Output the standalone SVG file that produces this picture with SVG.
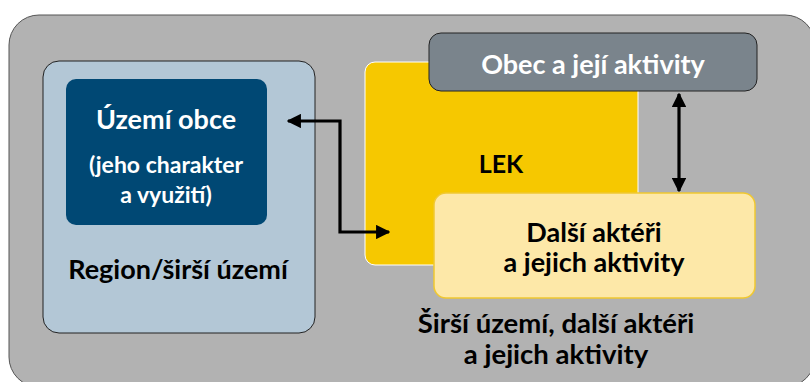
<svg xmlns="http://www.w3.org/2000/svg" width="810" height="382" viewBox="0 0 810 382">
<style>
.t{font-family:Lato,"Open Sans","Liberation Sans",sans-serif;font-weight:bold;text-anchor:middle}
.w{fill:#ffffff}
.k{fill:#000000}
.c{fill:none;stroke:#000;stroke-width:3.2}
</style>
<defs>
<marker id="ah" viewBox="0 0 10 10" refX="9" refY="5" markerWidth="4.5" markerHeight="4.5" orient="auto-start-reverse" markerUnits="strokeWidth">
<path d="M0,0 L10,5 L0,10 z" fill="#000"/>
</marker>
</defs>
<g id="outer">
<rect x="9" y="15" width="806" height="372" rx="30" fill="#b2b2b2" stroke="#555" stroke-width="1"/>
<text class="t k" x="556" y="333" font-size="27.5">Širší území, další aktéři</text>
<text class="t k" x="556" y="364" font-size="27.5">a jejich aktivity</text>
</g>
<g id="region">
<rect x="43" y="61" width="272" height="272" rx="16" fill="#b3c7d6" stroke="#222" stroke-width="1"/>
<text class="t k" x="178" y="279" font-size="27">Region/širší území</text>
</g>
<g id="uzemi">
<rect x="66" y="79" width="201" height="146" rx="10" fill="#004874"/>
<text class="t w" x="166" y="129" font-size="27">Území obce</text>
<text class="t w" x="166" y="173" font-size="23">(jeho charakter</text>
<text class="t w" x="166" y="203" font-size="23">a využití)</text>
</g>
<g id="lek">
<rect x="365" y="62" width="273" height="203" rx="10" fill="#f6c800" stroke="#fff" stroke-width="1"/>
<text class="t k" x="501" y="173" font-size="25">LEK</text>
</g>
<g id="obec">
<rect x="429" y="33" width="328" height="58" rx="12" fill="#7a848c" stroke="#222" stroke-width="1"/>
<text class="t w" x="593" y="74" font-size="27">Obec a její aktivity</text>
</g>
<g id="akteri">
<rect x="434" y="193" width="321" height="105" rx="12" fill="#fde8a8" stroke="#f0c830" stroke-width="1.5"/>
<text class="t k" x="594" y="242" font-size="27">Další aktéři</text>
<text class="t k" x="594" y="272" font-size="27">a jejich aktivity</text>
</g>
<g id="connectors">
<line class="c" x1="679" y1="94" x2="679" y2="191" marker-start="url(#ah)" marker-end="url(#ah)"/>
<polyline class="c" points="288,121 340,121 340,232 389,232" marker-start="url(#ah)" marker-end="url(#ah)"/>
</g>
</svg>
